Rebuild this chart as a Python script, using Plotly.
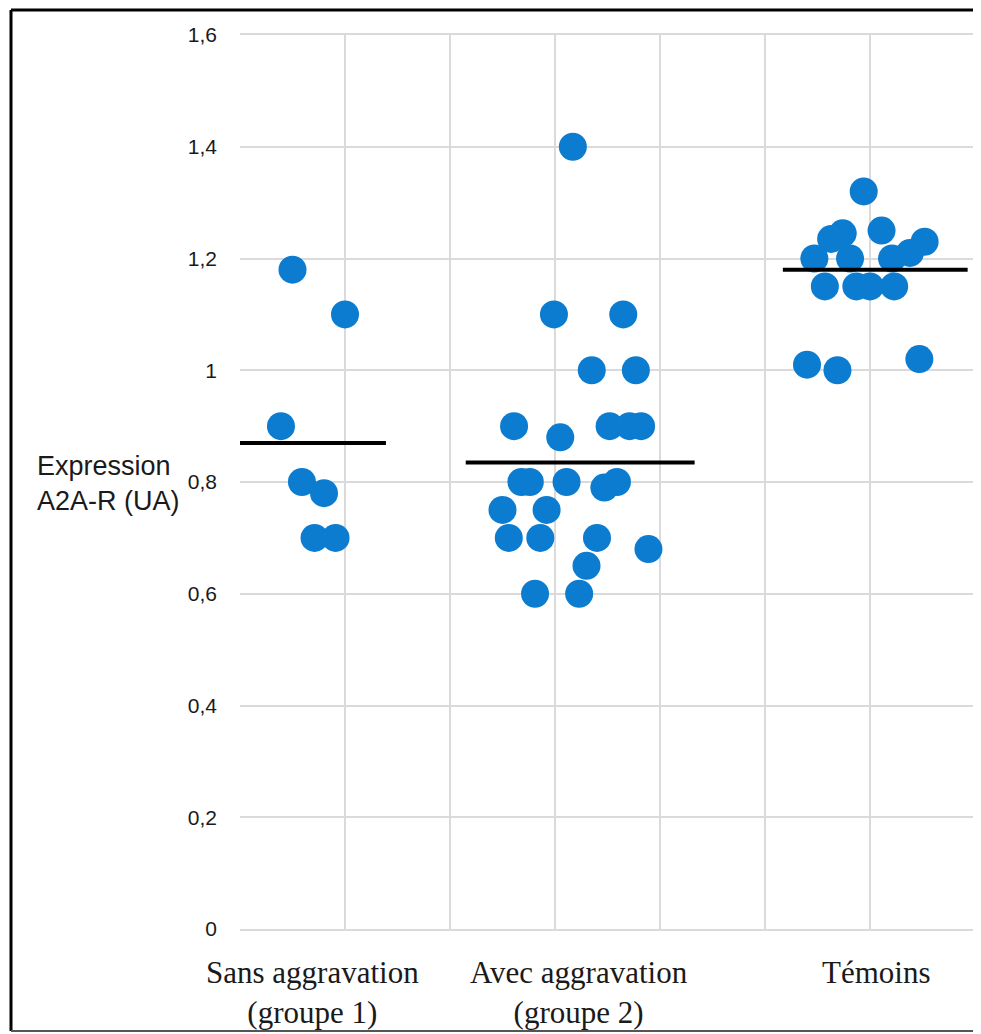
import plotly.graph_objects as go

# ---- data ----
categories = ["Sans aggravation<br>(groupe 1)", "Avec aggravation<br>(groupe 2)", "Témoins"]
category_pos = [0.69, 3.23, 6.06]

g1_x = [0.50, 1.00, 0.39, 0.59, 0.80, 0.71, 0.91]
g1_y = [1.18, 1.10, 0.90, 0.80, 0.78, 0.70, 0.70]

g2_x = [3.17, 2.99, 3.65, 3.35, 3.77, 2.61, 3.05, 3.52, 3.71, 3.82, 2.68, 2.76, 3.11,
        3.47, 3.59, 2.50, 2.92, 2.56, 2.86, 3.40, 3.89, 3.30, 2.81, 3.23]
g2_y = [1.40, 1.10, 1.10, 1.00, 1.00, 0.90, 0.88, 0.90, 0.90, 0.90, 0.80, 0.80, 0.80,
        0.79, 0.80, 0.75, 0.75, 0.70, 0.70, 0.70, 0.68, 0.65, 0.60, 0.60]

g3_x = [5.94, 6.11, 5.74, 5.63, 6.52, 5.47, 5.81, 6.21, 6.38, 5.57, 5.87, 6.00, 6.23,
        5.40, 5.69, 6.47]
g3_y = [1.32, 1.25, 1.245, 1.235, 1.23, 1.20, 1.20, 1.20, 1.21, 1.15, 1.15, 1.15, 1.15,
        1.01, 1.00, 1.02]

means = [0.87, 0.835, 1.18]
mean_x0 = [-0.02, 2.15, 5.17]
mean_x1 = [1.39, 4.33, 6.93]

y_tickvals = [0, 0.2, 0.4, 0.6, 0.8, 1.0, 1.2, 1.4, 1.6]
y_ticktext = ["0", "0,2", "0,4", "0,6", "0,8", "1", "1,2", "1,4", "1,6"]

# ---- figure (page has an 8px body margin, so positions are offset by 8) ----
OFF = 8
W, H = 981 - OFF, 1034 - OFF
L, R, T, B = 240 - OFF, 6, 35 - OFF, 105
pw, ph = W - L - R, H - T - B

dot_color = "#0B7CCF"
fig = go.Figure()
for xs, ys in [(g1_x, g1_y), (g2_x, g2_y), (g3_x, g3_y)]:
    fig.add_trace(go.Scatter(x=xs, y=ys, mode="markers",
                             marker=dict(size=28, color=dot_color, line=dict(width=0)),
                             showlegend=False, hoverinfo="y"))
for m, a, b in zip(means, mean_x0, mean_x1):
    fig.add_trace(go.Scatter(x=[a, b], y=[m, m], mode="lines",
                             line=dict(color="black", width=4),
                             showlegend=False, hoverinfo="skip", cliponaxis=False))

grid = "#dadada"
fig.update_xaxes(range=[0, 7], tick0=0, dtick=1, showticklabels=False,
                 showgrid=True, gridcolor=grid, gridwidth=2, zeroline=False,
                 showline=True, linecolor=grid, linewidth=2, mirror=True)
fig.update_yaxes(range=[0, 1.6], tickvals=y_tickvals, ticktext=y_ticktext,
                 showgrid=True, gridcolor=grid, gridwidth=2,
                 zeroline=True, zerolinecolor="#c4c4c4", zerolinewidth=2,
                 showline=False,
                 ticklabelstandoff=22,
                 tickfont=dict(family="Liberation Sans, Arial", size=21, color="#1a1a1a"))

annotations = []
for label, pos in zip(categories, category_pos):
    annotations.append(dict(x=pos, y=-0.027, xref="x", yref="paper", text=label,
                            showarrow=False, xanchor="center", yanchor="top",
                            font=dict(family="Liberation Serif, Times New Roman", size=31,
                                      color="#1a1a1a")))
annotations.append(dict(x=(35 - OFF - L) / pw, y=(929 - 483) / ph, xref="paper", yref="paper",
                        text="Expression<br>A2A-R (UA)", showarrow=False,
                        xanchor="left", yanchor="middle", align="left",
                        font=dict(family="Liberation Sans, Arial", size=27, color="#1a1a1a")))

# outer frame: left, top and bottom edges (right edge lies outside the picture)
fx0 = (11 - OFF - L) / pw
fx1 = (W - L) / pw
fy0 = -(1031 - 929) / ph
fy1 = 1 + (35 - 10) / ph
shapes = [
    dict(type="line", xref="paper", yref="paper", x0=fx0, x1=fx0, y0=fy0, y1=fy1,
         line=dict(color="black", width=3)),
    dict(type="line", xref="paper", yref="paper", x0=fx0, x1=fx1, y0=fy1, y1=fy1,
         line=dict(color="black", width=3)),
    dict(type="line", xref="paper", yref="paper", x0=fx0, x1=fx1, y0=fy0, y1=fy0,
         line=dict(color="#555555", width=2)),
]

fig.update_layout(width=W, height=H, margin=dict(l=L, r=R, t=T, b=B),
                  plot_bgcolor="white", paper_bgcolor="white",
                  annotations=annotations, shapes=shapes)

fig.write_html("out.html")
